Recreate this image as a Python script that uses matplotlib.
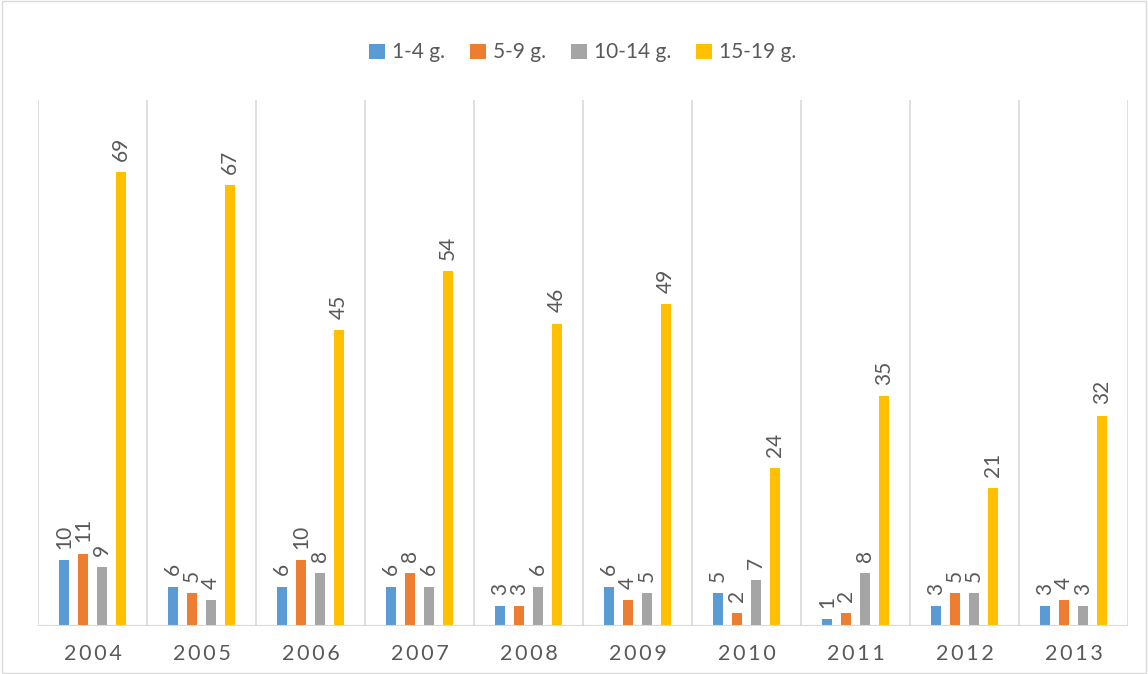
import matplotlib.pyplot as plt
import numpy as np

plt.rcParams['font.family'] = ['Lato', 'DejaVu Sans']

years = ['2004', '2005', '2006', '2007', '2008', '2009', '2010', '2011', '2012', '2013']
series_names = ['1-4 g.', '5-9 g.', '10-14 g.', '15-19 g.']
g1_4 = [10, 6, 6, 6, 3, 6, 5, 1, 3, 3]
g5_9 = [11, 5, 10, 8, 3, 4, 2, 2, 5, 4]
g10_14 = [9, 4, 8, 6, 6, 5, 7, 8, 5, 3]
g15_19 = [69, 67, 45, 54, 46, 49, 24, 35, 21, 32]
colors = ['#5b9bd5', '#ed7d31', '#a5a5a5', '#ffc000']

fig = plt.figure(figsize=(11.48, 6.74), dpi=100)
ax = fig.add_axes([38 / 1148, 48 / 674, 1090 / 1148, 526 / 674])

x = np.arange(len(years))
step = 0.174
width = 0.092
for i, (vals, name, c) in enumerate(zip([g1_4, g5_9, g10_14, g15_19], series_names, colors)):
    pos = x + (i - 1.5) * step
    ax.bar(pos, vals, width, color=c, label=name, zorder=3)
    for p, v in zip(pos, vals):
        ax.text(p, v + 1.7, str(v), rotation=90, ha='center', va='bottom',
                fontsize=15, color='#595959')

ax.set_xlim(-0.5, len(years) - 0.5)
ax.set_ylim(0, 80)
for b in np.arange(-0.5, len(years), 1.0):
    ax.axvline(b, color='#d9d9d9', lw=1.2, zorder=1)
ax.axhline(0, color='#d9d9d9', lw=1.5, zorder=4)

ax.set_xticks(x)
ax.set_xticklabels(['\u2009'.join(y) for y in years], fontsize=15.5, color='#595959')
ax.tick_params(axis='x', length=0, pad=13)
ax.set_yticks([])
for s in ax.spines.values():
    s.set_visible(False)

ax.legend(loc='upper center', bbox_to_anchor=(0.5, 1.145), ncol=4, frameon=False,
          fontsize=15, handlelength=0.75, handleheight=0.75, handletextpad=0.35,
          columnspacing=1.2, labelcolor='#595959')

border = plt.Rectangle((0.002, 0.002), 0.996, 0.996, transform=fig.transFigure,
                       fill=False, edgecolor='#d9d9d9', lw=1)
fig.patches.append(border)

fig.savefig('out.png', dpi=100)
